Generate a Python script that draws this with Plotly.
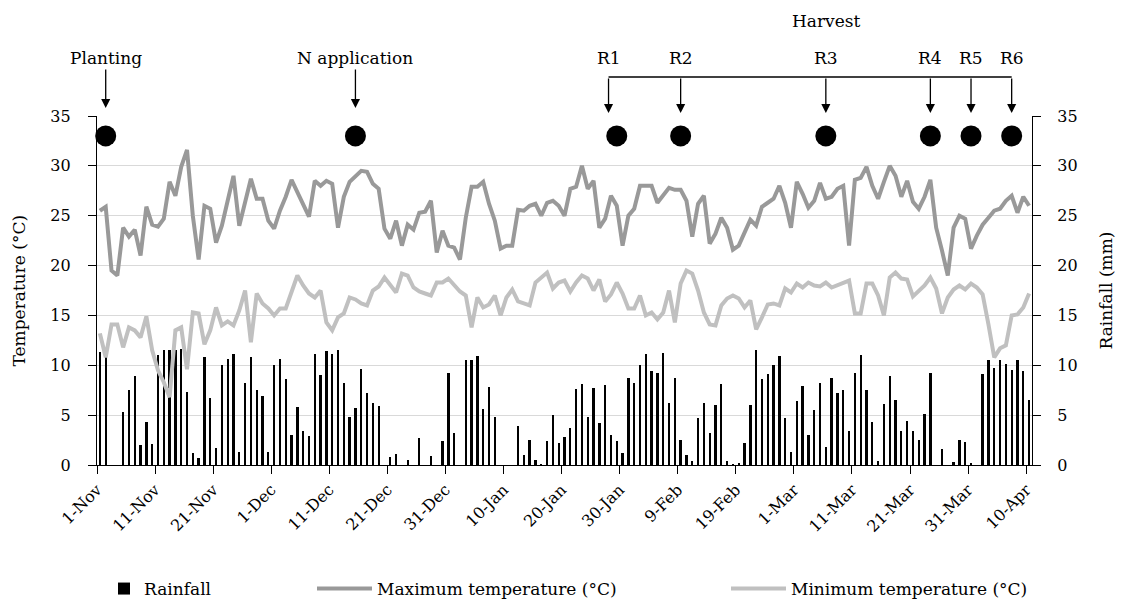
import pandas as pd
import plotly.graph_objects as go

# ---------------- data ----------------
start_date = "2014-11-01"
n_days = 161

max_temp = [
    25.5, 25.9, 19.5, 19.0, 23.8, 22.9, 23.6, 21.0, 25.9, 24.1,
    23.9, 24.7, 28.4, 27.0, 29.9, 31.6, 25.0, 20.6, 26.0, 25.7,
    22.3, 24.0, 26.5, 29.0, 24.0, 26.4, 28.7, 26.7, 26.7, 24.5,
    23.7, 25.5, 26.9, 28.6, 27.4, 26.2, 24.9, 28.5, 28.0, 28.5,
    28.2, 23.8, 26.9, 28.4, 28.9, 29.5, 29.4, 28.2, 27.7, 23.7,
    22.7, 24.5, 22.0, 24.1, 23.6, 25.3, 25.4, 26.5, 21.3, 23.5,
    22.0, 21.8, 20.6, 24.8, 27.9, 27.9, 28.4, 26.2, 24.5, 21.7,
    22.0, 22.0, 25.6, 25.5, 26.0, 26.2, 25.0, 26.3, 26.5, 26.0,
    25.0, 27.7, 27.9, 30.0, 27.7, 28.5, 23.8, 24.7, 27.0, 26.0,
    22.0, 25.0, 25.7, 28.0, 28.0, 28.0, 26.3, 27.0, 27.8, 27.6,
    27.6, 26.5, 22.9, 26.2, 27.0, 22.2, 23.2, 24.8, 23.8, 21.6,
    22.0, 23.3, 24.6, 24.0, 25.9, 26.3, 26.7, 28.0, 26.3, 23.8,
    28.4, 27.2, 25.8, 26.5, 28.3, 26.7, 26.9, 27.7, 28.0, 22.0,
    28.6, 28.8, 29.9, 28.0, 26.7, 28.4, 30.0, 29.0, 26.9, 28.5,
    26.4, 25.7, 26.9, 28.6, 23.8, 21.5, 19.0, 23.8, 25.0, 24.7,
    21.7, 23.0, 24.1, 24.8, 25.5, 25.7, 26.5, 27.0, 25.3, 26.9,
    26.0,
]

min_temp = [
    13.2, 10.8, 14.1, 14.1, 11.8, 13.8, 13.5, 12.8, 14.9, 11.5,
    9.5, 8.3, 6.8, 13.5, 13.8, 9.6, 15.3, 15.2, 12.1, 13.5,
    15.8, 14.0, 14.4, 14.0, 15.5, 17.5, 12.3, 17.2, 16.2, 15.7,
    15.0, 15.7, 15.7, 17.5, 19.0, 18.0, 17.2, 16.8, 17.5, 14.3,
    13.5, 14.8, 15.2, 16.8, 16.6, 16.2, 16.0, 17.5, 17.9, 18.8,
    18.0, 17.3, 19.2, 19.0, 17.8, 17.4, 17.2, 17.0, 18.3, 18.3,
    18.7, 18.0, 17.4, 17.0, 13.8, 16.8, 15.8, 16.1, 17.0, 15.0,
    16.8, 17.6, 16.4, 16.2, 16.0, 18.3, 18.8, 19.3, 17.7, 18.3,
    18.5, 17.4, 18.3, 19.0, 18.7, 17.5, 18.6, 16.4, 17.1, 18.3,
    17.2, 15.7, 15.7, 17.0, 15.0, 15.3, 14.6, 15.3, 17.5, 14.3,
    18.2, 19.5, 19.2, 17.5, 15.3, 14.1, 14.0, 16.0, 16.7, 17.0,
    16.7, 15.8, 16.5, 13.6, 14.8, 16.1, 16.2, 16.0, 17.7, 17.3,
    18.2, 17.8, 18.3, 18.0, 17.9, 18.3, 17.8, 18.0, 18.2, 18.5,
    15.2, 15.2, 18.2, 18.2, 17.0, 15.0, 18.8, 19.3, 18.7, 18.6,
    16.9, 17.4, 18.0, 18.8, 17.7, 15.2, 16.8, 17.6, 18.0, 17.6,
    18.2, 17.8, 17.1, 14.1, 10.8, 11.7, 12.0, 15.0, 15.1, 15.8,
    17.2,
]

rainfall = [
    11.3, 10.8, 0, 0, 5.35, 7.5, 8.9, 2.0, 4.3, 2.1,
    11.0, 11.5, 11.5, 11.5, 11.6, 7.3, 1.2, 0.7, 10.8, 6.7,
    1.7, 10.0, 10.6, 11.1, 1.3, 8.2, 10.8, 7.5, 6.9, 1.3,
    10.0, 10.6, 8.6, 3.0, 5.8, 3.4, 2.9, 11.1, 9.0, 11.4,
    11.1, 11.5, 8.2, 4.8, 5.7, 9.6, 7.2, 6.2, 5.9, 0,
    0.8, 1.1, 0, 0.5, 0, 2.7, 0, 0.9, 0, 2.4,
    9.2, 3.2, 0, 10.5, 10.5, 10.9, 5.6, 7.8, 4.8, 0,
    0, 0, 3.9, 1.0, 2.5, 0.5, 0.1, 2.4, 5.0, 2.2,
    2.8, 3.7, 7.6, 8.1, 4.8, 7.7, 4.2, 8.0, 3.0, 2.4,
    1.2, 8.7, 8.2, 10.0, 11.1, 9.4, 9.2, 11.2, 6.2, 8.7,
    2.5, 1.0, 0.4, 4.7, 6.2, 3.2, 6.0, 8.1, 0.4, 0.1,
    0.2, 2.2, 6.0, 11.5, 8.6, 9.1, 10.0, 10.9, 4.7, 1.3,
    6.4, 7.9, 3.0, 5.5, 8.2, 1.8, 8.7, 7.2, 7.5, 3.4,
    9.2, 11.0, 7.5, 4.3, 0.4, 6.1, 8.9, 6.5, 3.4, 4.4,
    3.4, 2.5, 5.1, 9.2, 0, 1.6, 0, 0.3, 2.5, 2.3,
    0.2, 0, 9.1, 10.5, 9.7, 10.5, 10.1, 9.5, 10.5, 9.4,
    6.5,
]

event_labels = ["Planting", "N application"]
event_dates = ["2014-11-02", "2014-12-15"]
harvest_labels = ["R1", "R2", "R3", "R4", "R5", "R6"]
harvest_dates = ["2015-01-29", "2015-02-09", "2015-03-06", "2015-03-24", "2015-03-31", "2015-04-07"]
marker_level = 33

# ---------------- figure ----------------
dates = pd.date_range(start_date + " 12:00", periods=n_days, freq="D")
DAY_MS = 86400000
FONT = "DejaVu Serif"
PLOT_TOP, PLOT_BOTTOM = 116, 465
PLOT_H = PLOT_BOTTOM - PLOT_TOP
PLOT_L, PLOT_R = 97, 1032
PLOT_W = PLOT_R - PLOT_L

fig = go.Figure()
fig.add_trace(go.Bar(
    x=dates, y=rainfall, name="Rainfall", yaxis="y",
    marker=dict(color="black", line=dict(width=0)),
    width=0.4 * DAY_MS, legend="legend",
))
fig.add_trace(go.Scatter(
    x=dates, y=max_temp, name="Maximum temperature (°C)", yaxis="y2",
    mode="lines", line=dict(color="#999999", width=4), legend="legend2",
))
fig.add_trace(go.Scatter(
    x=dates, y=min_temp, name="Minimum temperature (°C)", yaxis="y2",
    mode="lines", line=dict(color="#c0c0c0", width=4), legend="legend3",
))
all_marker_dates = [pd.Timestamp(d) + pd.Timedelta(hours=12) for d in event_dates + harvest_dates]
fig.add_trace(go.Scatter(
    x=all_marker_dates, y=[marker_level] * len(all_marker_dates), yaxis="y2",
    mode="markers", marker=dict(color="black", size=21), showlegend=False,
    cliponaxis=False,
))


def ypix(py):
    # pixel row (from top of page) -> paper y
    return (PLOT_BOTTOM - py) / PLOT_H


def xpix(px):
    return (px - PLOT_L) / PLOT_W


annotations = []
arrow_style = dict(arrowhead=2, arrowsize=1.4, arrowwidth=1.3, arrowcolor="black")
for lab, d in zip(event_labels, event_dates):
    xd = pd.Timestamp(d) + pd.Timedelta(hours=12)
    annotations.append(dict(
        x=xd, y=ypix(108), xref="x", yref="paper", text=lab, showarrow=True,
        ax=0, ay=-50, font=dict(family=FONT, size=17, color="black"), **arrow_style))

arrow_shift_h = [-34, 0, 0, 0, 0, 0]
harvest_x = [pd.Timestamp(d) + pd.Timedelta(hours=12 + s) for d, s in zip(harvest_dates, arrow_shift_h)]
for lab, xd in zip(harvest_labels, harvest_x):
    annotations.append(dict(
        x=xd, y=ypix(58), xref="x", yref="paper", text=lab, showarrow=False,
        xanchor="center", yanchor="middle",
        font=dict(family=FONT, size=17, color="black")))
    annotations.append(dict(
        x=xd, y=ypix(113), xref="x", yref="paper", text="", showarrow=True,
        ax=0, ay=-36, **arrow_style))
annotations.append(dict(
    x=harvest_x[2], y=ypix(21), xref="x", yref="paper", text="Harvest", showarrow=False,
    xanchor="center", yanchor="middle",
    font=dict(family=FONT, size=17, color="black")))
annotations.append(dict(
    x=xpix(18), y=0.5, xref="paper", yref="paper", text="Temperature (°C)",
    xanchor="center", yanchor="middle",
    textangle=-90, showarrow=False, font=dict(family=FONT, size=17, color="black")))
annotations.append(dict(
    x=xpix(1105), y=0.5, xref="paper", yref="paper", text="Rainfall (mm)",
    xanchor="center", yanchor="middle",
    textangle=-90, showarrow=False, font=dict(family=FONT, size=17, color="black")))

shapes = [dict(
    type="line", xref="x", yref="paper", x0=harvest_x[0], x1=harvest_x[-1],
    y0=ypix(77), y1=ypix(77), line=dict(color="black", width=1.3))]

tickfont = dict(family=FONT, size=16, color="black")
legfont = dict(family=FONT, size=17, color="black")
leg_common = dict(orientation="h", y=ypix(589), yanchor="middle", xanchor="left",
                  font=legfont, bgcolor="rgba(0,0,0,0)")

fig.update_layout(
    width=1124, height=601,
    margin=dict(l=PLOT_L, r=1124 - PLOT_R, t=PLOT_TOP, b=601 - PLOT_BOTTOM, autoexpand=False),
    plot_bgcolor="white", paper_bgcolor="white",
    bargap=0,
    annotations=annotations, shapes=shapes,
    xaxis=dict(
        type="date", range=["2014-11-01", "2015-04-11"],
        tick0="2014-11-01", dtick=10 * DAY_MS, tickformat="%-d-%b",
        tickangle=-45, ticks="outside", ticklen=8, tickcolor="black",
        showline=True, linecolor="black", linewidth=1.3, showgrid=False,
        tickfont=tickfont, zeroline=False, automargin=False,
    ),
    yaxis=dict(
        range=[0, 35], dtick=5, side="right", showline=True, linecolor="black",
        linewidth=1.3, ticks="outside", ticklen=8, tickcolor="black",
        showgrid=True, gridcolor="#d9d9d9", gridwidth=1.2, zeroline=False,
        tickfont=tickfont, ticklabelstandoff=13, automargin=False,
    ),
    yaxis2=dict(
        range=[0, 35], dtick=5, side="left", overlaying="y", showline=True,
        linecolor="black", linewidth=1.3, ticks="outside", ticklen=8,
        tickcolor="black", showgrid=False, zeroline=False, tickfont=tickfont,
        ticklabelstandoff=14, automargin=False,
    ),
    legend=dict(x=xpix(104), **leg_common),
    legend2=dict(x=xpix(312), itemwidth=55, **leg_common),
    legend3=dict(x=xpix(726), itemwidth=55, **leg_common),
)

fig.write_html("out.html", config={"displayModeBar": False},
               post_script="document.body.style.margin='0px';")
